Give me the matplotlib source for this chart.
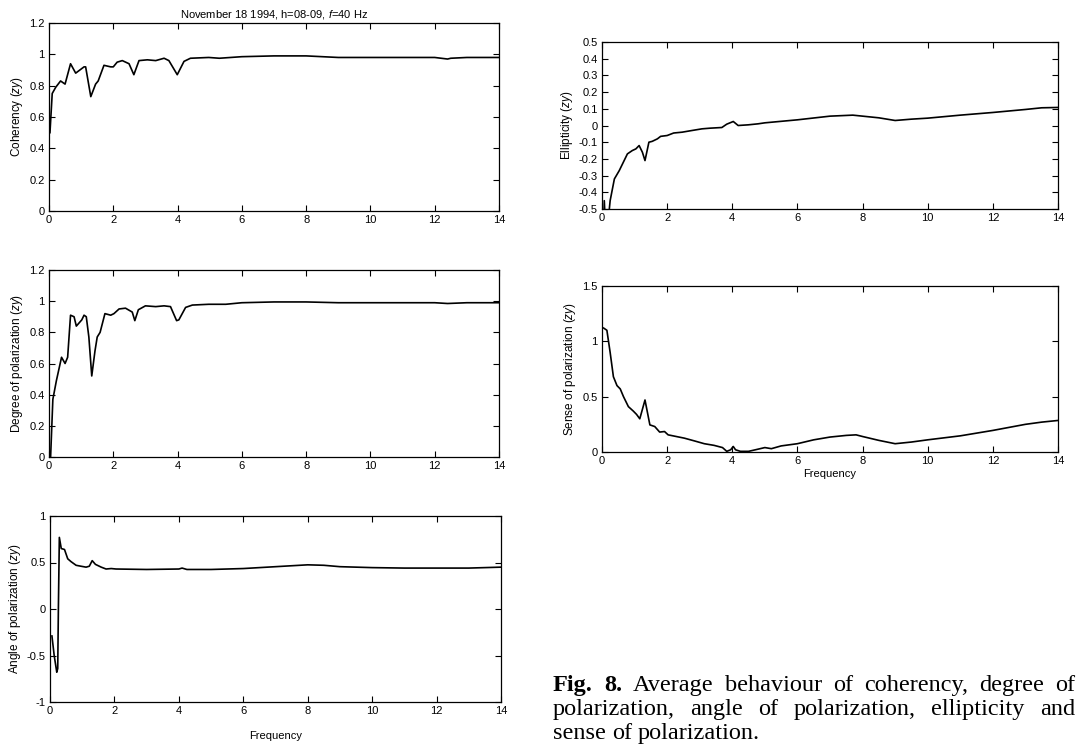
import matplotlib
matplotlib.use("Agg")
import matplotlib.pyplot as plt
from matplotlib.ticker import StrMethodFormatter

plt.rcParams['font.family'] = ['Liberation Sans', 'DejaVu Sans']
plt.rcParams['mathtext.fontset'] = 'custom'
plt.rcParams['mathtext.rm'] = 'Liberation Sans'
plt.rcParams['mathtext.it'] = 'Liberation Sans:italic'
plt.rcParams['axes.unicode_minus'] = False

# values (frequency, value)
coh_f = [0.03, 0.10, 0.21, 0.36, 0.50, 0.67, 0.83, 1.09, 1.14, 1.30, 1.45, 1.53, 1.71,
         1.92, 2.00, 2.12, 2.28, 2.49, 2.64, 2.80, 3.06, 3.32, 3.58, 3.73, 3.99, 4.20,
         4.40, 4.97, 5.3, 6.0, 7.0, 7.5, 8.0, 9.0, 10.0, 11.0, 12.0, 12.4, 12.5, 13.0, 14.0]
coh_v = [0.50, 0.75, 0.79, 0.83, 0.81, 0.94, 0.88, 0.92, 0.92, 0.73, 0.81, 0.83, 0.93,
         0.92, 0.92, 0.95, 0.96, 0.94, 0.87, 0.96, 0.965, 0.96, 0.975, 0.96, 0.87, 0.955,
         0.975, 0.98, 0.975, 0.985, 0.99, 0.99, 0.99, 0.98, 0.98, 0.98, 0.98, 0.97, 0.975,
         0.98, 0.98]

dop_f = [0.05, 0.12, 0.23, 0.39, 0.50, 0.58, 0.67, 0.78, 0.85, 1.02, 1.09, 1.16, 1.24,
         1.33, 1.43, 1.50, 1.59, 1.74, 1.92, 2.02, 2.18, 2.38, 2.59, 2.67, 2.78, 3.00,
         3.32, 3.58, 3.78, 3.97, 4.04, 4.25, 4.46, 4.97, 5.5, 6.0, 7.0, 8.0, 9.0, 10.0,
         11.0, 12.0, 12.4, 13.0, 14.0]
dop_v = [0.0, 0.37, 0.49, 0.64, 0.60, 0.64, 0.91, 0.90, 0.84, 0.88, 0.91, 0.90, 0.77,
         0.52, 0.68, 0.77, 0.80, 0.92, 0.91, 0.92, 0.95, 0.955, 0.93, 0.875, 0.945, 0.97,
         0.965, 0.97, 0.965, 0.875, 0.88, 0.96, 0.975, 0.98, 0.98, 0.99, 0.995, 0.995,
         0.99, 0.99, 0.99, 0.99, 0.985, 0.99, 0.99]

ang_f = [0.06, 0.13, 0.21, 0.24, 0.26, 0.29, 0.35, 0.45, 0.55, 0.65, 0.81, 0.96, 1.12,
         1.22, 1.31, 1.41, 1.59, 1.74, 1.90, 2.05, 3.0, 4.0, 4.1, 4.25, 5.0, 6.0, 7.0,
         8.0, 8.5, 9.0, 10.0, 11.0, 12.0, 13.0, 14.0]
ang_v = [-0.29, -0.50, -0.68, -0.64, 0.0, 0.77, 0.65, 0.64, 0.54, 0.51, 0.47, 0.46, 0.45,
         0.46, 0.52, 0.48, 0.45, 0.43, 0.435, 0.43, 0.425, 0.43, 0.44, 0.425, 0.425,
         0.435, 0.455, 0.475, 0.47, 0.455, 0.445, 0.44, 0.44, 0.44, 0.45]

ell_f = [0.05, 0.07, 0.12, 0.20, 0.25, 0.38, 0.53, 0.63, 0.78, 0.93, 1.04, 1.14, 1.24,
         1.32, 1.44, 1.54, 1.70, 1.80, 2.0, 2.2, 2.46, 2.76, 3.07, 3.32, 3.68, 3.83,
         4.03, 4.18, 4.49, 4.79, 5.0, 6.0, 7.0, 7.7, 8.5, 9.0, 9.5, 10.0, 11.0, 12.0,
         13.0, 13.5, 14.0]
ell_v = [-0.60, -0.45, -0.65, -0.55, -0.45, -0.32, -0.27, -0.23, -0.17, -0.15, -0.14,
         -0.12, -0.16, -0.21, -0.10, -0.095, -0.08, -0.065, -0.06, -0.045, -0.04, -0.03,
         -0.02, -0.016, -0.012, 0.008, 0.024, 0.0, 0.004, 0.01, 0.016, 0.034, 0.056,
         0.062, 0.046, 0.03, 0.038, 0.044, 0.062, 0.078, 0.096, 0.106, 0.108]

sen_f = [0.05, 0.15, 0.25, 0.35, 0.46, 0.56, 0.66, 0.81, 0.96, 1.06, 1.16, 1.32, 1.47,
         1.62, 1.77, 1.92, 2.03, 2.28, 2.53, 2.84, 3.14, 3.44, 3.70, 3.83, 3.95, 4.03,
         4.10, 4.25, 4.50, 4.71, 5.0, 5.2, 5.5, 6.0, 6.5, 7.0, 7.5, 7.8, 8.0, 8.5, 9.0,
         9.5, 10.0, 11.0, 12.0, 13.0, 13.5, 14.0]
sen_v = [1.12, 1.10, 0.90, 0.68, 0.60, 0.57, 0.50, 0.41, 0.37, 0.34, 0.30, 0.47, 0.245,
         0.23, 0.18, 0.185, 0.155, 0.14, 0.125, 0.10, 0.075, 0.06, 0.04, 0.006, 0.02,
         0.05, 0.02, 0.006, 0.006, 0.02, 0.04, 0.03, 0.055, 0.075, 0.11, 0.135, 0.15,
         0.155, 0.14, 0.105, 0.075, 0.09, 0.11, 0.146, 0.195, 0.25, 0.27, 0.285]

W, H = 1078, 745
fig = plt.figure(figsize=(W / 100, H / 100), dpi=100)


def box(l, r, t, b):
    return [l / W, (H - b) / H, (r - l) / W, (b - t) / H]


def panel(rect, f, v, ylim, yticks, ylabel, xlabel=None, pad=4):
    ax = fig.add_axes(rect)
    ax.plot(f, v, color='black', lw=1.2)
    ax.set_xlim(0, 14)
    ax.set_ylim(*ylim)
    ax.set_xticks(range(0, 15, 2))
    ax.set_yticks(yticks)
    ax.yaxis.set_major_formatter(StrMethodFormatter('{x:g}'))
    ax.tick_params(direction='in', top=True, right=True, length=4, width=0.8,
                   labelsize=8, pad=3)
    for s in ax.spines.values():
        s.set_linewidth(0.9)
    ax.set_ylabel(ylabel, fontsize=8.5, labelpad=3)
    if xlabel:
        ax.set_xlabel(xlabel, fontsize=8, labelpad=pad)
    return ax


ax1 = panel(box(49, 499, 23, 211), coh_f, coh_v, (0, 1.2),
            [0, 0.2, 0.4, 0.6, 0.8, 1, 1.2], r'Coherency ($\it{zy}$)')
ax1.set_title(r'November 18 1994, h=08-09, $\it{f}$=40 Hz', fontsize=8, pad=4)
panel(box(49, 499, 270, 457), dop_f, dop_v, (0, 1.2),
      [0, 0.2, 0.4, 0.6, 0.8, 1, 1.2], r'Degree of polarization ($\it{zy}$)')
panel(box(50, 501, 516, 702), ang_f, ang_v, (-1, 1),
      [-1, -0.5, 0, 0.5, 1], r'Angle of polarization ($\it{zy}$)', 'Frequency', pad=11)
panel(box(602, 1058, 42, 209), ell_f, ell_v, (-0.5, 0.5),
      [round(-0.5 + 0.1 * i, 1) for i in range(11)], r'Ellipticity ($\it{zy}$)')
panel(box(602, 1058, 286, 452), sen_f, sen_v, (0, 1.5),
      [0, 0.5, 1, 1.5], r'Sense of polarization ($\it{zy}$)', 'Frequency', pad=2)

# caption, justified like the printed page
cap = [
    [('Fig.', 'bold'), ('8.', 'bold'), ('Average', 'normal'), ('behaviour', 'normal'),
     ('of', 'normal'), ('coherency,', 'normal'), ('degree', 'normal'), ('of', 'normal')],
    [(w, 'normal') for w in 'polarization, angle of polarization, ellipticity and'.split()],
    [(w, 'normal') for w in 'sense of polarization.'.split()],
]
left, right = 553, 1075
base = [691, 715, 739]
renderer = fig.canvas.get_renderer()
for i, words in enumerate(cap):
    texts = [fig.text(0, 0, w, fontsize=17.5, fontweight=wt, family='Liberation Serif',
                      va='baseline') for w, wt in words]
    widths = [t.get_window_extent(renderer).width for t in texts]
    if i < 2:
        gap = (right - left - sum(widths)) / (len(texts) - 1)
    else:
        gap = 6
    x = left
    for t, w in zip(texts, widths):
        t.set_position((x / W, (H - base[i]) / H))
        x += w + gap

fig.savefig('out.png', dpi=100)
